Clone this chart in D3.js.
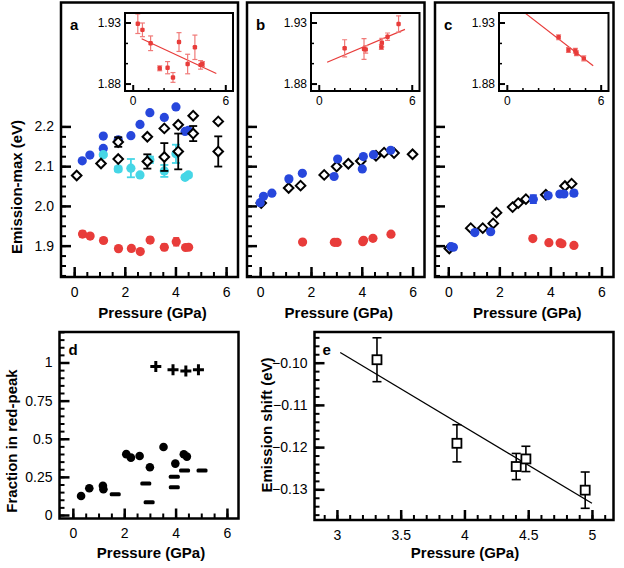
<!DOCTYPE html>
<html><head><meta charset="utf-8">
<script src="https://cdn.jsdelivr.net/npm/d3@7"></script>
<style>body{margin:0;background:#fff}svg{display:block}text{font-family:Arial,"Liberation Sans",Helvetica,sans-serif}</style>
</head><body><svg id="c" width="624" height="568"></svg>
<script>
// ---------- data ----------
// panel a
const aRedX=[0.33,0.63,1.16,1.75,2.26,2.61,3.0,3.56,4.03,4.4,4.52];
const aRedY=[1.929,1.924,1.913,1.8925,1.893,1.885,1.914,1.896,1.9097,1.8953,1.896];
const aRedErr=[0.008,0.0056,0.006,0.002,0.005,0.004,0.0077,0.008,0.01,0.0035,0.002];
const aBlueX=[0.32,0.62,1.15,1.15,1.74,2.24,2.60,2.99,3.56,4.02,4.38,4.51];
const aBlueY=[2.1135,2.128,2.1446,2.1757,2.1665,2.1766,2.205,2.2345,2.2227,2.249,2.1874,2.19];
const aCyanX=[1.15,1.74,2.24,2.60,2.99,3.56,4.02,4.38,4.51];
const aCyanY=[2.129,2.093,2.095,2.078,2.116,2.088,2.131,2.072,2.078];
const aCyanErr=[0.003,0.006,0.023,0.003,0.008,0.015,0.023,0.004,0.005];
const aDiaX=[0.10,1.06,1.74,1.74,2.89,2.89,3.56,3.56,4.11,4.11,4.70,4.70,5.69,5.69];
const aDiaY=[2.0765,2.1067,2.1178,2.1607,2.174,2.1118,2.195,2.123,2.204,2.137,2.227,2.182,2.2126,2.137];
const aDiaErr=[0,0,0,0.012,0,0.018,0,0.035,0,0.045,0,0.019,0,0.038];
const aFitX=[0.58,5.42], aFitY=[1.9167,1.8883];
// panel b
const bBlueX=[0.0,0.13,0.46,1.13,1.66,2.91,3.05,4.02,4.06,4.46,5.14];
const bBlueY=[2.008,2.024,2.032,2.068,2.082,2.074,2.118,2.093,2.124,2.129,2.140];
const bDiaX=[0.04,1.12,1.59,2.52,3.01,3.47,3.96,4.56,4.88,5.27,6.0];
const bDiaY=[2.007,2.045,2.051,2.078,2.099,2.106,2.113,2.126,2.134,2.133,2.130];
const bRedX=[1.67,2.92,3.03,4.04,4.07,4.44,5.15];
const bRedY=[1.9089,1.9083,1.908,1.910,1.9135,1.9184,1.9288];
const bRedErr=[0.007,0.0085,0.003,0.002,0.0035,0.003,0.0067];
const bFitX=[0.54,5.56], bFitY=[1.8974,1.9244];
// panel c
const cDiaX=[0.04,0.88,1.35,1.76,1.89,2.52,2.74,3.04,3.82,4.57,4.83];
const cDiaY=[1.893,1.944,1.944,1.956,1.983,1.997,2.007,2.017,2.028,2.050,2.056];
const cBlueX=[0.11,0.20,1.04,1.66,3.33,3.91,4.37,4.53,4.92];
const cBlueY=[1.8975,1.896,1.933,1.935,2.017,2.026,2.030,2.030,2.032];
const cBlueErr=[0,0,0,0,0.010,0.004,0.005,0.004,0.007];
const cRedX=[3.31,3.94,4.38,4.45,4.92];
const cRedY=[1.9179,1.9075,1.9069,1.9048,1.9006];
const cRedErr=[0.002,0.002,0.002,0.002,0.002];
const cFitX=[1.19,5.52], cFitY=[1.9375,1.8946];
// panel d
const dCircX=[0.32,0.64,1.17,1.19,2.08,2.26,2.60,3.0,3.53,3.99,4.32,4.44];
const dCircY=[0.125,0.175,0.192,0.169,0.399,0.376,0.387,0.313,0.446,0.337,0.398,0.383];
const dDashX=[1.65,2.84,2.97,3.95,3.95,4.35,5.03];
const dDashY=[0.136,0.206,0.083,0.251,0.182,0.291,0.291];
const dPlusX=[3.23,3.90,4.40,4.89];
const dPlusY=[0.974,0.952,0.945,0.952];
// panel e
const eX=[3.314,3.941,4.406,4.482,4.947];
const eY=[-0.0993,-0.1191,-0.1246,-0.1228,-0.1302];
const eErr=[0.0052,0.0044,0.0031,0.0030,0.0043];
const eFitX=[3.026,5.0], eFitY=[-0.0976,-0.1333];
// tick labels
const mainYTicks=[1.9,2.0,2.1,2.2];
const mainXTicks=[0,2,4,6];
const insetYTicks=[1.88,1.93];
const insetXTicks=[0,6];
const dYTicks=[0,0.25,0.5,0.75,1];
const dYLabels=["0","0.25","0.5","0.75","1"];
const eXTicks=[3,3.5,4,4.5,5];
const eYTicks=[-0.10,-0.11,-0.12,-0.13];

// ---------- drawing ----------
const BLUE="#2747dc", CYAN="#46d6e6", RED="#e83c3a", REDERR="#f07a78";
const svg=d3.select("#c");
const zip=(xs,ys,es)=>xs.map((v,i)=>({x:v,y:ys[i],e:es?es[i]:0}));
function rng(a,b,s){const r=[];for(let v=a;v<=b+1e-9;v+=s)r.push(+v.toFixed(5));return r;}
function styleAxis(g,w,fs){g.select(".domain").remove();g.selectAll(".tick line").attr("stroke","#000").attr("stroke-width",w);
  g.selectAll(".tick text").attr("fill","#000").attr("font-size",fs).attr("font-family","Arial, 'Liberation Sans', sans-serif");}
function frame(x0,x1,y0,y1,sw){svg.append("rect").attr("x",x0).attr("y",y0).attr("width",x1-x0).attr("height",y1-y0)
  .attr("fill","none").attr("stroke","#000").attr("stroke-width",sw);}
function errBars(g,data,x,y,cap,color,sw){
  const d=data.filter(p=>p.e>0);
  g.selectAll(null).data(d).enter().append("line").attr("x1",p=>x(p.x)).attr("x2",p=>x(p.x))
    .attr("y1",p=>y(p.y-p.e)).attr("y2",p=>y(p.y+p.e)).attr("stroke",color).attr("stroke-width",sw);
  [-1,1].forEach(s=>g.selectAll(null).data(d).enter().append("line").attr("x1",p=>x(p.x)-cap).attr("x2",p=>x(p.x)+cap)
    .attr("y1",p=>y(p.y+s*p.e)).attr("y2",p=>y(p.y+s*p.e)).attr("stroke",color).attr("stroke-width",sw));
}
function circles(g,data,x,y,r,color){g.selectAll(null).data(data).enter().append("circle").attr("cx",p=>x(p.x)).attr("cy",p=>y(p.y)).attr("r",r).attr("fill",color);}
function diamonds(g,data,x,y,s){g.selectAll(null).data(data).enter().append("path")
  .attr("d",p=>{const cx=x(p.x),cy=y(p.y);return `M${cx},${cy-s}L${cx+s},${cy}L${cx},${cy+s}L${cx-s},${cy}Z`;})
  .attr("fill","#fff").attr("stroke","#000").attr("stroke-width",2);}
function fitLine(g,xs,ys,x,y,color,w){g.append("path").datum(zip(xs,ys)).attr("d",d3.line().x(p=>x(p.x)).y(p=>y(p.y)))
  .attr("stroke",color).attr("stroke-width",w).attr("fill","none");}

const TOP=2.5, BOT=277;
function mainPanel(p){
  const x=d3.scaleLinear().domain([-0.52,6.47]).range([p.x0,p.x1]);
  const y=d3.scaleLinear().domain([1.8211,2.5118]).range([BOT,TOP]);
  const g=svg.append("g");
  g.append("g").attr("transform",`translate(${p.x0},0)`).call(d3.axisLeft(y).tickValues(rng(1.825,2.2,0.025)).tickSize(-5).tickFormat("")).call(a=>styleAxis(a,2,14));
  g.append("g").attr("transform",`translate(${p.x0},0)`).call(d3.axisLeft(y).tickValues(mainYTicks).tickSize(-10).tickPadding(7).tickFormat(p.lab?d3.format(".1f"):"")).call(a=>styleAxis(a,2.5,14));
  g.append("g").attr("transform",`translate(0,${BOT})`).call(d3.axisBottom(x).tickValues(rng(0,6,0.5)).tickSize(-5).tickFormat("")).call(a=>styleAxis(a,2,14));
  g.append("g").attr("transform",`translate(0,${BOT})`).call(d3.axisBottom(x).tickValues(mainXTicks).tickSize(-10).tickPadding(10).tickFormat(d3.format("d"))).call(a=>styleAxis(a,2.5,14));
  frame(p.x0,p.x1,TOP,BOT,2.5);
  g.append("text").attr("x",(p.x0+p.x1)/2+3).attr("y",318).attr("text-anchor","middle").attr("font-size",15).attr("font-weight","bold").text("Pressure (GPa)");
  g.append("text").attr("x",p.x0+9).attr("y",30).attr("font-size",15).attr("font-weight","bold").text(p.letter);
  // inset
  const ix0=p.x0+64, ix1=p.x1-5, iy0=13, iy1=91;
  const ixs=d3.scaleLinear().domain([-0.5,6.5]).range([ix0,ix1]);
  const iys=d3.scaleLinear().domain([1.8739,1.9378]).range([iy1,iy0]);
  svg.append("rect").attr("x",ix0).attr("y",iy0).attr("width",ix1-ix0).attr("height",iy1-iy0).attr("fill","#fff");
  const ig=svg.append("g");
  ig.append("g").attr("transform",`translate(${ix0},0)`).call(d3.axisLeft(iys).tickValues([1.8967,1.9133]).tickSize(-3).tickFormat("")).call(a=>styleAxis(a,1.5,12));
  ig.append("g").attr("transform",`translate(${ix0},0)`).call(d3.axisLeft(iys).tickValues(insetYTicks).tickSize(-6).tickPadding(4).tickFormat(d3.format(".2f"))).call(a=>styleAxis(a,2,12));
  ig.append("g").attr("transform",`translate(0,${iy1})`).call(d3.axisBottom(ixs).tickValues(rng(1,5,1)).tickSize(-3).tickFormat("")).call(a=>styleAxis(a,1.5,12));
  ig.append("g").attr("transform",`translate(0,${iy1})`).call(d3.axisBottom(ixs).tickValues(insetXTicks).tickSize(-6).tickPadding(5).tickFormat(d3.format("d"))).call(a=>styleAxis(a,2,12));
  const cid="clip"+p.letter;
  svg.append("clipPath").attr("id",cid).append("rect").attr("x",ix0).attr("y",iy0).attr("width",ix1-ix0).attr("height",iy1-iy0);
  const pg=ig.append("g").attr("clip-path",`url(#${cid})`);
  fitLine(pg,p.fitX,p.fitY,ixs,iys,RED,1.2);
  const rd=zip(p.redX,p.redY,p.redErr);
  errBars(pg,rd,ixs,iys,2.5,REDERR,1.2);
  pg.selectAll(null).data(rd).enter().append("rect").attr("x",d=>ixs(d.x)-2.2).attr("y",d=>iys(d.y)-2.2).attr("width",4.4).attr("height",4.4).attr("rx",1.2).attr("fill",RED);
  frame(ix0,ix1,iy0,iy1,2);
  return {x,y,g};
}

// panel a
{
  const P=mainPanel({x0:61,x1:238,lab:true,letter:"a",fitX:aFitX,fitY:aFitY,redX:aRedX,redY:aRedY,redErr:aRedErr});
  const {x,y,g}=P;
  circles(g,zip(aBlueX,aBlueY),x,y,4.6,BLUE);
  const cy=zip(aCyanX,aCyanY,aCyanErr);
  errBars(g,cy,x,y,4,CYAN,1.8);
  circles(g,cy,x,y,4.6,CYAN);
  const dd=zip(aDiaX,aDiaY,aDiaErr);
  errBars(g,dd,x,y,4,"#000",1.8);
  diamonds(g,dd,x,y,4.8);
  const rd=zip(aRedX,aRedY,aRedErr);
  errBars(g,rd,x,y,3,RED,1.5);
  circles(g,rd,x,y,4.6,RED);
}
// panel b
{
  const {x,y,g}=mainPanel({x0:247,x1:424.5,lab:false,letter:"b",fitX:bFitX,fitY:bFitY,redX:bRedX,redY:bRedY,redErr:bRedErr});
  diamonds(g,zip(bDiaX,bDiaY),x,y,4.8);
  circles(g,zip(bBlueX,bBlueY),x,y,4.6,BLUE);
  circles(g,zip(bRedX,bRedY),x,y,4.6,RED);
}
// panel c
{
  const {x,y,g}=mainPanel({x0:435,x1:613.5,lab:false,letter:"c",fitX:cFitX,fitY:cFitY,redX:cRedX,redY:cRedY,redErr:cRedErr});
  diamonds(g,zip(cDiaX,cDiaY),x,y,4.8);
  const bd=zip(cBlueX,cBlueY,cBlueErr);
  errBars(g,bd,x,y,3.5,BLUE,1.8);
  circles(g,bd,x,y,4.6,BLUE);
  circles(g,zip(cRedX,cRedY),x,y,4.6,RED);
}
// y title top
svg.append("text").attr("transform","translate(22,187) rotate(-90)").attr("text-anchor","middle").attr("font-size",15).attr("font-weight","bold").text("Emission-max (eV)");

// panel d
{
  const x0=59.5,x1=238.5,y0=332,y1=518.5;
  const x=d3.scaleLinear().domain([-0.52,6.45]).range([x0,x1]);
  const y=d3.scaleLinear().domain([-0.023,1.2]).range([y1,y0]);
  const g=svg.append("g");
  g.append("g").attr("transform",`translate(${x0},0)`).call(d3.axisLeft(y).tickValues(rng(0,1.2,0.05)).tickSize(-5).tickFormat("")).call(a=>styleAxis(a,2,14));
  g.append("g").attr("transform",`translate(${x0},0)`).call(d3.axisLeft(y).tickValues(dYTicks).tickSize(-10).tickPadding(7).tickFormat((d,i)=>dYLabels[i])).call(a=>styleAxis(a,2.5,14));
  g.append("g").attr("transform",`translate(0,${y1})`).call(d3.axisBottom(x).tickValues(rng(0,6,0.5)).tickSize(-5).tickFormat("")).call(a=>styleAxis(a,2,14));
  g.append("g").attr("transform",`translate(0,${y1})`).call(d3.axisBottom(x).tickValues(mainXTicks).tickSize(-10).tickPadding(10).tickFormat(d3.format("d"))).call(a=>styleAxis(a,2.5,14));
  frame(x0,x1,y0,y1,2.5);
  circles(g,zip(dCircX,dCircY),x,y,4.3,"#000");
  g.selectAll(null).data(zip(dDashX,dDashY)).enter().append("rect").attr("x",p=>x(p.x)-5.5).attr("y",p=>y(p.y)-2).attr("width",11).attr("height",4).attr("rx",1.5).attr("fill","#000");
  g.selectAll(null).data(zip(dPlusX,dPlusY)).enter().append("path")
    .attr("d",p=>{const cx=x(p.x),cy=y(p.y);return `M${cx-5.5},${cy}H${cx+5.5}M${cx},${cy-5.5}V${cy+5.5}`;})
    .attr("stroke","#000").attr("stroke-width",3);
  g.append("text").attr("x",x0+9).attr("y",355).attr("font-size",15).attr("font-weight","bold").text("d");
  g.append("text").attr("x",(x0+x1)/2+2).attr("y",558).attr("text-anchor","middle").attr("font-size",15).attr("font-weight","bold").text("Pressure (GPa)");
  g.append("text").attr("transform","translate(17,441) rotate(-90)").attr("text-anchor","middle").attr("font-size",15).attr("font-weight","bold").text("Fraction in red-peak");
}
// panel e
{
  const x0=314.5,x1=613.5,y0=332,y1=520;
  const x=d3.scaleLinear().domain([2.824,5.169]).range([x0,x1]);
  const y=d3.scaleLinear().domain([-0.13727,-0.09273]).range([y1,y0]);
  const g=svg.append("g");
  g.append("g").attr("transform",`translate(${x0},0)`).call(d3.axisLeft(y).tickValues(rng(-0.136,-0.094,0.002)).tickSize(-5).tickFormat("")).call(a=>styleAxis(a,2,14));
  g.append("g").attr("transform",`translate(${x0},0)`).call(d3.axisLeft(y).tickValues(eYTicks).tickSize(-10).tickPadding(7).tickFormat(d3.format(".2f"))).call(a=>styleAxis(a,2.5,14));
  g.append("g").attr("transform",`translate(0,${y1})`).call(d3.axisBottom(x).tickValues(rng(2.9,5.1,0.1)).tickSize(-5).tickFormat("")).call(a=>styleAxis(a,2,14));
  g.append("g").attr("transform",`translate(0,${y1})`).call(d3.axisBottom(x).tickValues(eXTicks).tickSize(-10).tickPadding(10).tickFormat(d=>String(d))).call(a=>styleAxis(a,2.5,14));
  frame(x0,x1,y0,y1,2.5);
  fitLine(g,eFitX,eFitY,x,y,"#000",1.3);
  const ed=zip(eX,eY,eErr);
  errBars(g,ed,x,y,4.5,"#000",1.6);
  g.selectAll(null).data(ed).enter().append("rect").attr("x",p=>x(p.x)-4.5).attr("y",p=>y(p.y)-4.5).attr("width",9).attr("height",9)
    .attr("fill","#fff").attr("stroke","#000").attr("stroke-width",1.8);
  g.append("text").attr("x",x0+8).attr("y",355).attr("font-size",15).attr("font-weight","bold").text("e");
  g.append("text").attr("x",465).attr("y",558).attr("text-anchor","middle").attr("font-size",15).attr("font-weight","bold").text("Pressure (GPa)");
  g.append("text").attr("transform","translate(272,425) rotate(-90)").attr("text-anchor","middle").attr("font-size",15).attr("font-weight","bold").text("Emission shift (eV)");
}
</script></body></html>
